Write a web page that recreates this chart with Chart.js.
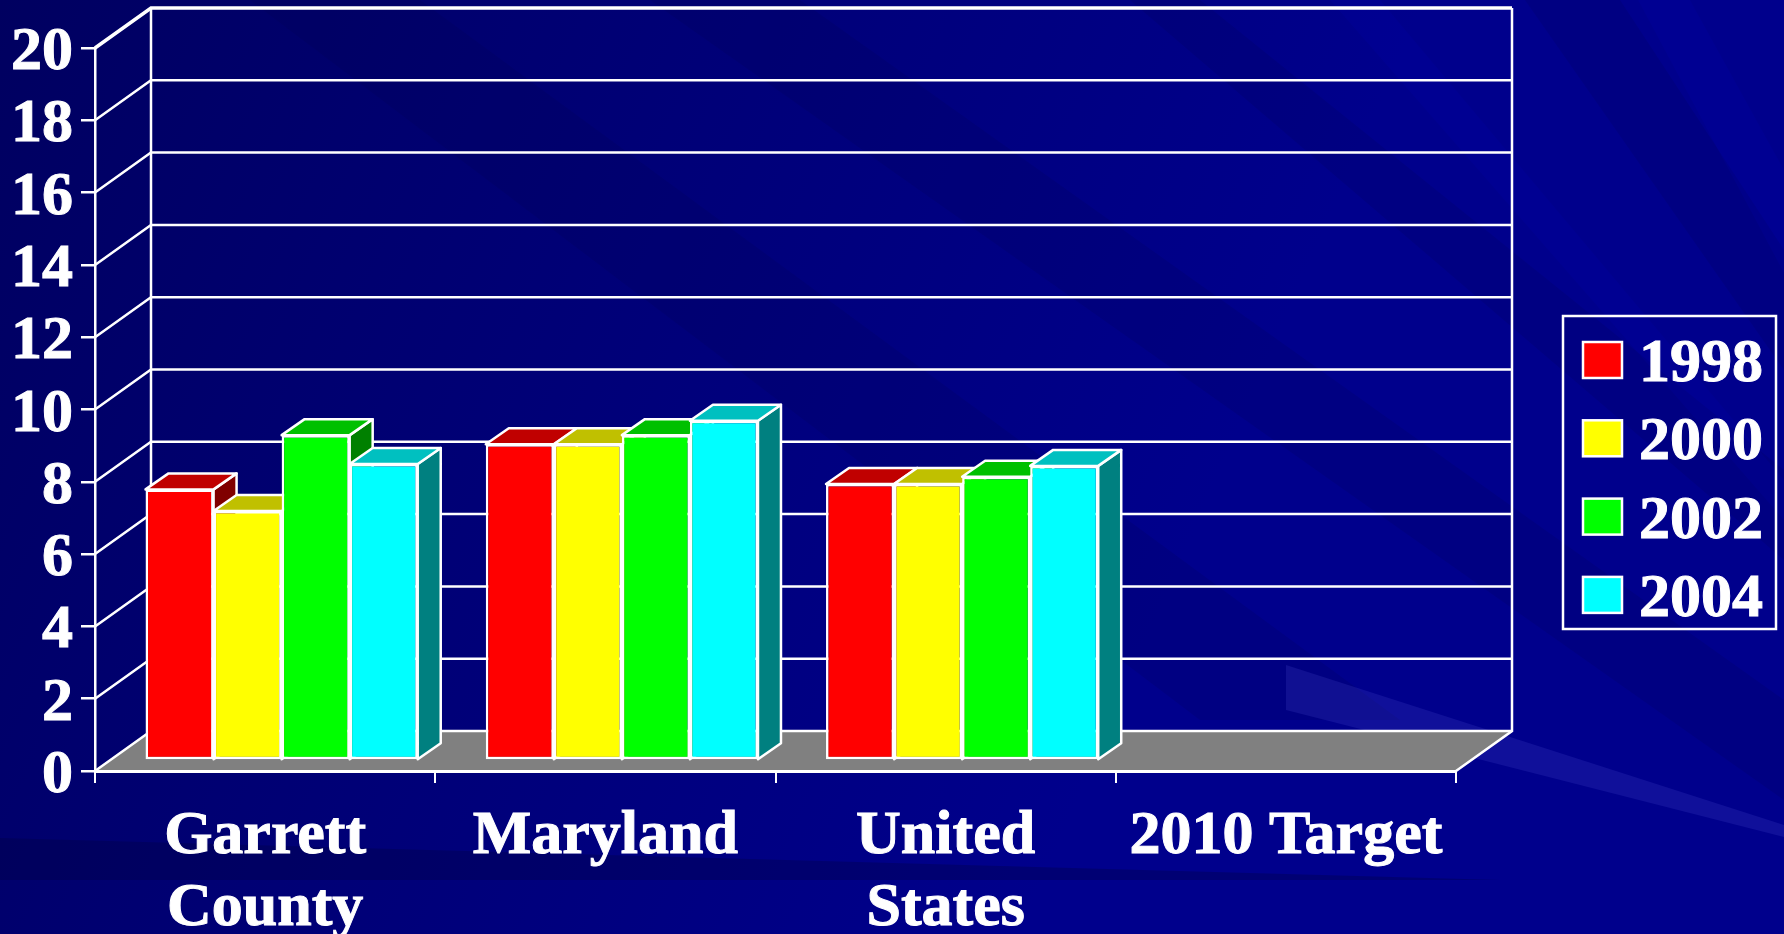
<!DOCTYPE html>
<html>
<head>
<meta charset="utf-8">
<title>Chart</title>
<script src="https://cdn.jsdelivr.net/npm/chart.js@4"></script>
<style>
  html, body { margin: 0; padding: 0; background: #00008c; overflow: hidden; }
  canvas { display: block; }
</style>
</head>
<body>
<canvas id="smokeChart" width="1784" height="934"></canvas>
<script>
const categories = [["Garrett", "County"], ["Maryland"], ["United", "States"], ["2010 Target"]];
const years = ["1998", "2000", "2002", "2004"];
const values1998 = [7.5, 8.75, 7.65, null];
const values2000 = [6.9, 8.75, 7.65, null];
const values2002 = [9.0, 9.0, 7.85, null];
const values2004 = [8.2, 9.4, 8.15, null];
const frontColors = ["#ff0000", "#ffff00", "#00ff00", "#00ffff"];
const topColors = ["#c00000", "#c0c000", "#00c000", "#00c0c0"];
const sideColors = ["#800000", "#808000", "#008000", "#008080"];
const yTicks = [0, 2, 4, 6, 8, 10, 12, 14, 16, 18, 20];

const fontName = "'Liberation Serif', 'Times New Roman', serif";

// depth of the fake 3d box
const wallX = 56, wallY = 40;
const barShiftX = 16.5, barShiftY = 10.5;
const barDepthX = 23, barDepthY = 16;
const lineW = 2.5;

function poly(ctx, pts, fill, stroke) {
    ctx.beginPath();
    ctx.moveTo(pts[0][0], pts[0][1]);
    for (let i = 1; i < pts.length; i++) ctx.lineTo(pts[i][0], pts[i][1]);
    ctx.closePath();
    if (fill) { ctx.fillStyle = fill; ctx.fill(); }
    if (stroke) { ctx.strokeStyle = stroke; ctx.lineWidth = lineW; ctx.lineJoin = "round"; ctx.stroke(); }
}

function drawBackground(ctx) {
    let g = ctx.createLinearGradient(0, 0, 1200, 520);
    g.addColorStop(0, "#000060");
    g.addColorStop(0.3, "#00006e");
    g.addColorStop(1, "#00008c");
    ctx.fillStyle = g;
    ctx.fillRect(0, 0, 1784, 934);
    // streaks
    const dark = "rgba(0,0,70,0.14)";
    const light = "rgba(0,0,190,0.12)";
    poly(ctx, [[250, 0], [420, 0], [1400, 720], [1200, 720]], dark);
    poly(ctx, [[650, 0], [800, 0], [1784, 700], [1784, 800]], dark);
    poly(ctx, [[1130, 0], [1200, 0], [1784, 470], [1784, 560]], dark);
    poly(ctx, [[1525, 0], [1620, 0], [1784, 250], [1784, 370]], dark);
    poly(ctx, [[1330, 0], [1380, 0], [1784, 480], [1784, 520]], light);
    poly(ctx, [[1638, 0], [1690, 0], [1784, 170], [1784, 273]], light);
    poly(ctx, [[0, 838], [0, 880], [1500, 880]], "rgba(0,0,60,0.3)");
    poly(ctx, [[1286, 665], [1286, 710], [1784, 837], [1784, 825]], "rgba(120,120,255,0.13)");
}

const chart3d = {
    id: "chart3d",
    beforeDraw(chart) {
        const ctx = chart.ctx, y = chart.scales.y, a = chart.chartArea;
        ctx.save();
        drawBackground(ctx);
        const zero = y.getPixelForValue(0);
        // floor
        poly(ctx, [[a.left, zero], [a.right, zero], [a.right + wallX, zero - wallY], [a.left + wallX, zero - wallY]], "#808080");
        // walls
        ctx.strokeStyle = "#ffffff";
        ctx.lineWidth = lineW;
        for (const v of yTicks) {
            const py = y.getPixelForValue(v);
            ctx.lineWidth = v === 20 ? 3.5 : lineW;
            ctx.beginPath();
            ctx.moveTo(a.left, py);
            ctx.lineTo(a.left + wallX, py - wallY);
            ctx.lineTo(a.right + wallX, py - wallY);
            ctx.stroke();
        }
        ctx.lineWidth = lineW;
        ctx.beginPath();
        ctx.moveTo(a.left + wallX, y.getPixelForValue(20) - wallY);
        ctx.lineTo(a.left + wallX, zero - wallY);
        ctx.moveTo(a.right + wallX, y.getPixelForValue(20) - wallY);
        ctx.lineTo(a.right + wallX, zero - wallY);
        ctx.lineTo(a.right, zero);
        ctx.stroke();
        ctx.restore();
    },
    beforeDatasetsDraw(chart) {
        const ctx = chart.ctx;
        ctx.save();
        ctx.translate(barShiftX, -barShiftY);
        chart.data.datasets.forEach((ds, i) => {
            chart.getDatasetMeta(i).data.forEach((bar, j) => {
                if (ds.data[j] === null) return;
                const p = bar.getProps(["x", "y", "base", "width"], true);
                const l = p.x - p.width / 2, r = p.x + p.width / 2;
                poly(ctx, [[r, p.base], [r + barDepthX, p.base - barDepthY], [r + barDepthX, p.y - barDepthY], [r, p.y]], sideColors[i], "#ffffff");
                poly(ctx, [[l, p.y], [l + barDepthX, p.y - barDepthY], [r + barDepthX, p.y - barDepthY], [r, p.y]], topColors[i], "#ffffff");
            });
        });
    },
    afterDatasetsDraw(chart) {
        chart.ctx.restore();
    },
    afterDraw(chart) {
        // legend box
        const ctx = chart.ctx;
        ctx.save();
        ctx.strokeStyle = "#ffffff";
        ctx.lineWidth = lineW;
        ctx.strokeRect(1563, 316, 213, 313);
        ctx.font = "bold 62px " + fontName;
        ctx.textAlign = "left";
        ctx.textBaseline = "alphabetic";
        years.forEach((yr, i) => {
            const top = 342 + i * 78.3;
            ctx.fillStyle = frontColors[i];
            ctx.fillRect(1583, top, 39, 36);
            ctx.strokeRect(1583, top, 39, 36);
            ctx.fillStyle = "#ffffff";
            ctx.fillText(yr, 1639, top + 39);
            ctx.lineWidth = 1;
            ctx.strokeText(yr, 1639, top + 39);
            ctx.lineWidth = lineW;
        });
        ctx.restore();
    }
};

new Chart("smokeChart", {
    type: "bar",
    data: {
        labels: categories,
        datasets: [values1998, values2000, values2002, values2004].map((vals, i) => ({
            label: years[i],
            data: vals,
            backgroundColor: frontColors[i],
            borderColor: "#ffffff",
            borderWidth: 2.5,
            borderSkipped: false,
            categoryPercentage: 0.8,
            barPercentage: 1
        }))
    },
    options: {
        responsive: false,
        animation: false,
        layout: { padding: { top: 48, right: 328, left: 0, bottom: 0 } },
        plugins: {
            legend: { display: false },
            title: { display: false },
            tooltip: { enabled: false }
        },
        scales: {
            x: {
                afterFit(s) { s.height = 163; },
                grid: { drawOnChartArea: false, color: "#ffffff", lineWidth: 2, tickLength: 12 },
                border: { display: true, color: "#ffffff", width: 3 },
                ticks: {
                    color: "#ffffff",
                    maxRotation: 0,
                    autoSkip: false,
                    padding: 18,
                    textStrokeColor: "#ffffff",
                    textStrokeWidth: 1,
                    font: { family: fontName, size: 62, weight: "bold", lineHeight: 1.16 }
                }
            },
            y: {
                afterFit(s) { s.width = 95; },
                min: 0,
                max: 20,
                grid: { drawOnChartArea: false, color: "#ffffff", lineWidth: 2.5, tickLength: 14 },
                border: { display: true, color: "#ffffff", width: 2.5 },
                ticks: {
                    color: "#ffffff",
                    stepSize: 2,
                    autoSkip: false,
                    padding: 8,
                    labelOffset: 5,
                    textStrokeColor: "#ffffff",
                    textStrokeWidth: 1,
                    font: { family: fontName, size: 62, weight: "bold" }
                }
            }
        }
    },
    plugins: [chart3d]
});
</script>
</body>
</html>
